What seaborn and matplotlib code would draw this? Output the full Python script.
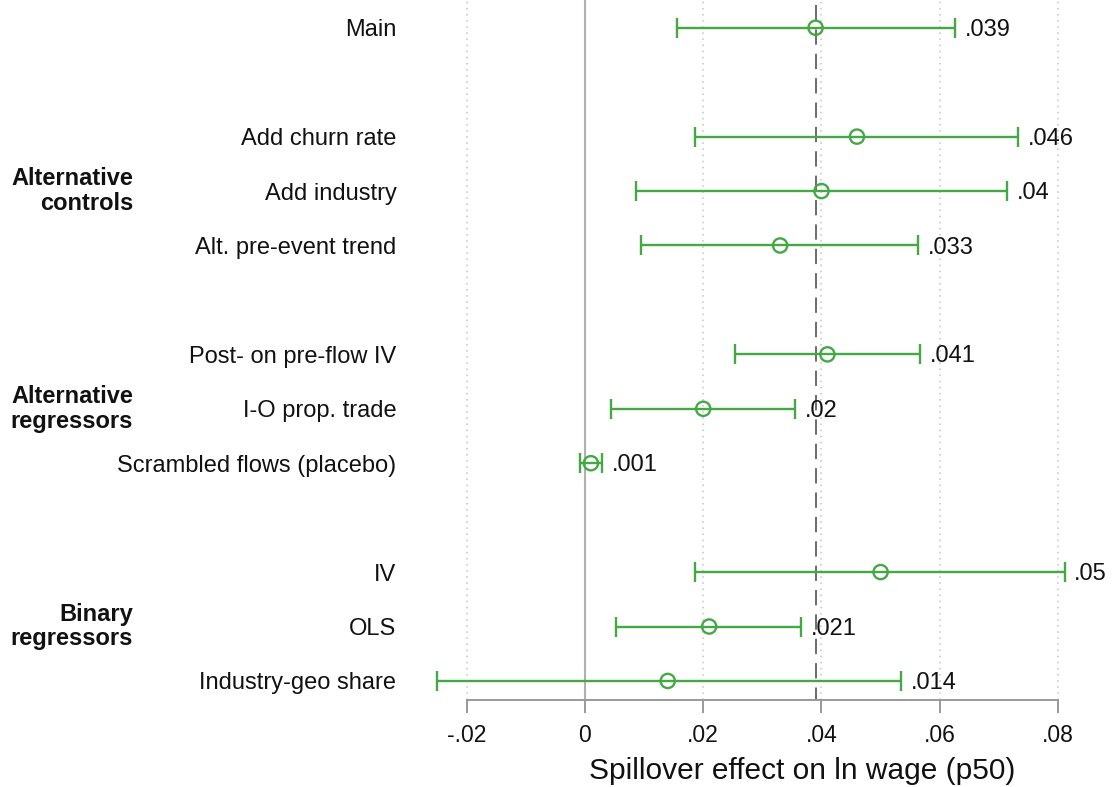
import numpy as np
import pandas as pd
import matplotlib
matplotlib.use("Agg")
import matplotlib.pyplot as plt
import matplotlib.transforms as mtransforms
import seaborn as sns

# ---- data ----
labels = ["Main", "Add churn rate", "Add industry", "Alt. pre-event trend",
          "Post- on pre-flow IV", "I-O prop. trade", "Scrambled flows (placebo)",
          "IV", "OLS", "Industry-geo share"]
estimates = [0.039, 0.046, 0.040, 0.033, 0.041, 0.020, 0.001, 0.050, 0.021, 0.014]
ci_low = [0.0156, 0.0186, 0.0086, 0.0095, 0.0254, 0.0044, -0.0008, 0.0186, 0.0052, -0.0251]
ci_high = [0.0626, 0.0733, 0.0714, 0.0563, 0.0567, 0.0355, 0.0029, 0.0811, 0.0365, 0.0535]
row_pos = [0, 2, 3, 4, 6, 7, 8, 10, 11, 12]
groups = ["Alternative\ncontrols", "Alternative\nregressors", "Binary\nregressors"]
group_pos = [3, 7, 11]
xticks = [-0.02, 0, 0.02, 0.04, 0.06, 0.08]
xticklabels = ["-.02", "0", ".02", ".04", ".06", ".08"]
ref_value = 0.039
xlabel = "Spillover effect on ln wage (p50)"

df = pd.DataFrame({"label": labels, "est": estimates, "lo": ci_low,
                   "hi": ci_high, "pos": row_pos})

sns.set_theme(style="white")
plt.rcParams["font.family"] = ["Liberation Sans", "DejaVu Sans"]

green = "#45a845"
fig = plt.figure(figsize=(11.12, 7.87), dpi=100)
ax = fig.add_axes([420 / 1112, (787 - 700) / 787, (1100 - 420) / 1112, 700 / 787])

# reference lines
for xv in [-0.02, 0.02, 0.04, 0.06, 0.08]:
    ax.axvline(xv, color="#c4c4c4", lw=1.1, ls=(0, (1, 3)), zorder=0)
ax.axvline(0, color="#b0b0b0", lw=1.5, zorder=1)
ax.plot([ref_value, ref_value], [-0.42, 12.35], color="#606060", lw=1.3,
        ls=(0, (8.5, 5)), zorder=1)

# CIs
ax.errorbar(df["est"], df["pos"],
            xerr=[df["est"] - df["lo"], df["hi"] - df["est"]],
            fmt="none", ecolor=green, elinewidth=1.7, capsize=7, capthick=1.7, zorder=3)
sns.scatterplot(data=df, x="est", y="pos", ax=ax, marker="o", s=105,
                facecolor="none", edgecolor=green, linewidth=1.7, zorder=4)

# value labels
for _, r in df.iterrows():
    txt = f"{r['est']:g}".replace("0.", ".", 1)
    ax.annotate(txt, (r["hi"], r["pos"]), xytext=(7, -1.5), textcoords="offset points",
                ha="left", va="center", fontsize=17, color="#111111", annotation_clip=False)

ax.set_xlim(-0.0279, 0.0871)
ax.set_ylim(12.35, -0.51)
ax.set_yticks(row_pos)
ax.set_yticklabels(labels, fontsize=17, color="#111111")
ax.tick_params(axis="y", length=0, pad=17)
ax.set_xticks(xticks)
ax.set_xticklabels(xticklabels, fontsize=16.5, color="#111111")
ax.tick_params(axis="x", length=9, width=1.4, color="#999999", pad=8, bottom=True)
ax.set_xlabel(xlabel, fontsize=21.5, color="#111111")
ax.xaxis.set_label_coords((802 - 420) / 680, -71 / 700, transform=ax.transAxes)
ax.xaxis.label.set_va("center")
ax.set_ylabel("")
for s in ["top", "right", "left"]:
    ax.spines[s].set_visible(False)
ax.spines["bottom"].set_color("#999999")
ax.spines["bottom"].set_linewidth(1.4)
ax.spines["bottom"].set_bounds(-0.02, 0.08)

trans = mtransforms.blended_transform_factory(fig.transFigure, ax.transData)
for g, p in zip(groups, group_pos):
    fig.text(133 / 1112, p, g, transform=trans, ha="right", va="center",
             fontsize=17, fontweight="bold", color="#111111", linespacing=1.1,
             multialignment="right")

fig.savefig("out.png", dpi=100)
